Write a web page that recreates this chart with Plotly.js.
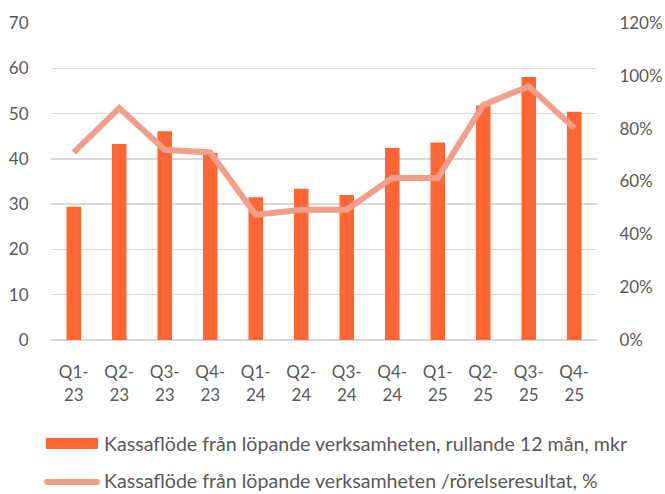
<!DOCTYPE html>
<html><head><meta charset="utf-8">
<script src="https://cdn.plot.ly/plotly-3.0.1.min.js"></script>
<style>body{margin:0;background:#fff}#c{width:665px;height:494px}</style>
</head><body><div id="c"></div>
<script>
const categories = ["Q1-<br>23","Q2-<br>23","Q3-<br>23","Q4-<br>23","Q1-<br>24","Q2-<br>24","Q3-<br>24","Q4-<br>24","Q1-<br>25","Q2-<br>25","Q3-<br>25","Q4-<br>25"];
const cashFlow = [29.4, 43.3, 46.1, 41.3, 31.5, 33.4, 32.0, 42.4, 43.6, 51.8, 58.1, 50.4];
const ratioPct = [71.0, 87.8, 72.0, 71.0, 47.4, 49.3, 49.3, 61.3, 61.3, 89.0, 96.0, 80.2];
const barName = "Kassaflöde från löpande verksamheten, rullande 12 mån, mkr";
const lineName = "Kassaflöde från löpande verksamheten /rörelseresultat, %";
const barColor = "#FF6633";
const lineColor = "#F0A08A";

const font = {family: "Lato, 'Open Sans', sans-serif", size: 17, color: "#595959"};
const legFont = {family: font.family, size: 19.6, color: "#595959"};
const traces = [
  {type: "bar", x: categories, y: cashFlow, name: barName, marker: {color: barColor}, yaxis: "y"},
  {type: "scatter", mode: "lines", x: categories, y: ratioPct, name: lineName, line: {color: lineColor, width: 6}, yaxis: "y2"}
];
// legend pill geometry (paper coords); plot area is 546 x 317 px
const L = -0.0128, R = 0.0897, Mid = (340 - 482) / 317, hh = 3 / 317, T = Mid + hh, B = Mid - hh, rx = 0.0055;
const pill = `M ${L+rx},${T} L ${R-rx},${T} Q ${R},${T} ${R},${Mid} Q ${R},${B} ${R-rx},${B} L ${L+rx},${B} Q ${L},${B} ${L},${Mid} Q ${L},${T} ${L+rx},${T} Z`;
const layout = {
  width: 665, height: 494,
  margin: {l: 51, r: 68, t: 23, b: 154},
  paper_bgcolor: "#fff", plot_bgcolor: "#fff",
  font: font,
  bargap: 0.68,
  showlegend: false,
  xaxis: {type: "category", tickfont: font, showgrid: false, zeroline: false, showline: false, ticks: "outside", ticklen: 17, tickcolor: "rgba(0,0,0,0)", fixedrange: true},
  yaxis: {range: [0, 70], dtick: 10, tickfont: font, gridcolor: "#D9D9D9", gridwidth: 1.5, zeroline: true, zerolinecolor: "#D9D9D9", zerolinewidth: 1.5, showline: false, ticks: "outside", ticklen: 18, tickcolor: "rgba(0,0,0,0)"},
  yaxis2: {range: [0, 120], dtick: 20, ticksuffix: "%", overlaying: "y", side: "right", tickfont: font, showgrid: false, zeroline: false, showline: false, ticks: "outside", ticklen: 18, tickcolor: "rgba(0,0,0,0)"},
  shapes: [
    {type: "rect", xref: "paper", yref: "paper", x0: -0.0092, x1: 0.0861, y0: -0.3438, y1: -0.3091, fillcolor: barColor, line: {width: 0}},
    {type: "path", xref: "paper", yref: "paper", path: pill, fillcolor: lineColor, line: {width: 0}}
  ],
  annotations: [
    {xref: "paper", yref: "paper", x: 0.0952, y: (340 - 443) / 317, xanchor: "left", yanchor: "middle", text: barName, showarrow: false, font: legFont, borderpad: 0},
    {xref: "paper", yref: "paper", x: 0.0952, y: (340 - 480) / 317, xanchor: "left", yanchor: "middle", text: lineName, showarrow: false, font: legFont, borderpad: 0}
  ]
};
Plotly.newPlot("c", traces, layout, {staticPlot: true});
</script></body></html>
